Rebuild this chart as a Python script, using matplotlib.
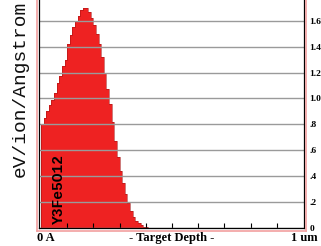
import numpy as np
import matplotlib
matplotlib.use('Agg')
import matplotlib.pyplot as plt
from matplotlib.lines import Line2D

# energy loss per 100 A bin, eV/ion/Angstrom
bin_width = 100
energy_loss = [0.80, 0.85, 0.90, 0.95, 0.99, 1.04, 1.12, 1.17, 1.25, 1.30,
               1.42, 1.49, 1.55, 1.60, 1.64, 1.68, 1.70, 1.70, 1.67, 1.62,
               1.57, 1.50, 1.42, 1.32, 1.20, 1.07, 0.96, 0.82, 0.67, 0.55,
               0.44, 0.35, 0.26, 0.19, 0.13, 0.085, 0.055, 0.035, 0.02, 0.01,
               0.005, 0.003, 0.002]
edges = np.arange(len(energy_loss) + 1) * bin_width

y_ticks = [0, 0.2, 0.4, 0.6, 0.8, 1.0, 1.2, 1.4, 1.6]
y_labels = ['0', '.2', '.4', '.6', '.8', '1.0', '1.2', '1.4', '1.6']
x_ticks = [1000, 2000, 3000, 4000, 5000, 6000, 7000, 8000, 9000]
target = 'Y3Fe5O12'

W, H = 321, 246
fig = plt.figure(figsize=(W / 100, H / 100), dpi=100)
ax = fig.add_axes([39 / W, 18 / H, 265 / W, 228 / H])

ax.stairs(energy_loss, edges, fill=True, color='#ee2222', zorder=1)
ax.stairs(energy_loss, edges, color='#a81414', lw=0.4, zorder=1.2)

ax.set_xlim(-76, 10038)
ax.set_ylim(0, 1.7606)

ax.yaxis.tick_right()
ax.set_yticks(y_ticks)
ax.set_yticklabels(y_labels, fontfamily='Liberation Serif', fontweight='bold', fontsize=6.8)
ax.tick_params(axis='y', length=0, pad=4)
ax.set_xticks(x_ticks)
ax.set_xticklabels([])
ax.tick_params(axis='x', direction='in', length=3.5, width=0.8, color='black')
ax.grid(axis='y', color='#9a9a9a', lw=1.0)

ax.spines['top'].set_visible(False)
for s in ['left', 'bottom', 'right']:
    ax.spines[s].set_color('black')
    ax.spines[s].set_linewidth(0.9)

# pink outer frame
pink = '#f2a0a0'
fig.add_artist(Line2D([37 / W, 37 / W], [15 / H, 1], color=pink, lw=1.2, transform=fig.transFigure))
fig.add_artist(Line2D([306 / W, 306 / W], [15 / H, 1], color=pink, lw=1.2, transform=fig.transFigure))
fig.add_artist(Line2D([37 / W, 306 / W], [15 / H, 15 / H], color=pink, lw=1.2, transform=fig.transFigure))

ax.text(700, 0.03, target, rotation=90, fontfamily='Liberation Mono', fontweight='bold',
        fontsize=10.5, ha='center', va='bottom', color='black')

fig.text(20 / W, 1 - 89 / H, 'eV/ion/Angstrom', rotation=90, fontfamily='Liberation Mono',
         fontsize=14, ha='center', va='center', color='#111111')

bfont = dict(fontfamily='Liberation Serif', fontweight='bold', fontsize=9, va='center')
fig.text(37 / W, 1 - 238 / H, '0 A', ha='left', **bfont)
fig.text(172 / W, 1 - 238 / H, '- Target Depth -', ha='center', **bfont)
fig.text(318 / W, 1 - 238 / H, '1 um', ha='right', **bfont)

fig.savefig('out.png', dpi=100)
